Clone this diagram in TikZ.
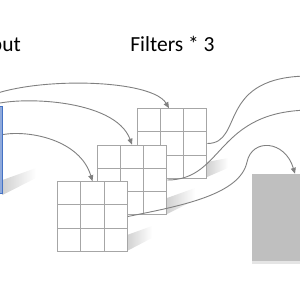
\documentclass[tikz,border=0pt]{standalone}
\usepackage{fontspec}
\setmainfont{Carlito}
\usepackage{tikz}
\usetikzlibrary{arrows.meta}
\usepackage{xcolor}
\definecolor{gridgray}{HTML}{A6A6A6}
\definecolor{arcgray}{HTML}{808080}
\definecolor{inblue}{HTML}{4472C4}
\definecolor{outgray}{HTML}{BFBFBF}

\begin{document}
\begin{tikzpicture}[x=1pt, y=-1pt,
    filterbox/.style={draw=gridgray, fill=white, line width=1.1pt,
                      minimum size=69.5pt, inner sep=0pt},
    gridline/.style={draw=gridgray, line width=1.1pt},
    flow/.style={draw=arcgray, line width=0.9pt},
    flowarrow/.style={flow, -{Triangle[length=6pt, width=5pt]}},
    shadowband/.style={left color=black!18, right color=white},
    headtext/.style={font=\fontsize{21.5}{24}\selectfont, inner sep=0pt}]
            \clip (0,0) rectangle (300,300);
            % Titles
            \node[headtext, anchor=base east] (intext) at (21,51.7) {Input};
            \node[headtext, anchor=base] (filtext) at (172.5,51.7) {Filters * 3};
            % Soft shadows
            \shade[shadowband] (2.5,195) -- (2.5,180) -- (36,168) -- (36,178) -- cycle;
            \shade[shadowband] (127,251) -- (127,235) -- (152,226) -- (152,238) -- cycle;
            \shade[shadowband] (167,214) -- (167,198) -- (195,188) -- (195,200) -- cycle;
            \shade[shadowband] (207,177) -- (207,162) -- (228,158) -- (228,168) -- cycle;
            \fill[black!10] (252,261) rectangle (300,263.5);
            % Three filters, back to front
            \foreach \n/\x/\y in {f3/172/143.5, f2/132/180, f1/92.5/216.5} {
                \node[filterbox] (\n) at (\x,\y) {};
                \foreach \k in {-1,1} {
                    \draw[gridline] (\x+\k*11.58, \y-34.75) -- (\x+\k*11.58, \y+34.75);
                    \draw[gridline] (\x-34.75, \y+\k*11.58) -- (\x+34.75, \y+\k*11.58);
                }
            }
            % Input and output maps
            \node[draw=inblue, fill=inblue!60, line width=1pt, inner sep=0pt,
                  minimum width=60pt, minimum height=87pt] (inp) at (-27.5,149.5) {};
            \node[fill=outgray, inner sep=0pt,
                  minimum width=86pt, minimum height=87pt] (out) at (295,217.5) {};
            % Arrows from input to filters
            \draw[flowarrow] (inp.north) .. controls (5,76) and (150,76) .. ([xshift=-3pt]f3.north);
            \draw[flowarrow] ([xshift=18pt]inp.north) .. controls (15,96) and (115,98) .. (f2.north);
            \draw[flowarrow] ([yshift=15pt]inp.east) .. controls (30,130) and (80,140) .. (f1.north);
            % Curves from filters to outputs
            \coordinate (o3) at (312,76);
            \coordinate (o2) at (312,110);
            \draw[flow] (f3.east) .. controls (245,143.5) and (215,75) .. (o3);
            \draw[flow] (f2.east) .. controls (225,180) and (215,110) .. (o2);
            \draw[flowarrow] (f1.east) .. controls (180,206) and (240,195) .. (247,162)
                  .. controls (252,138) and (285,140) .. (out.north);
\end{tikzpicture}
\end{document}
